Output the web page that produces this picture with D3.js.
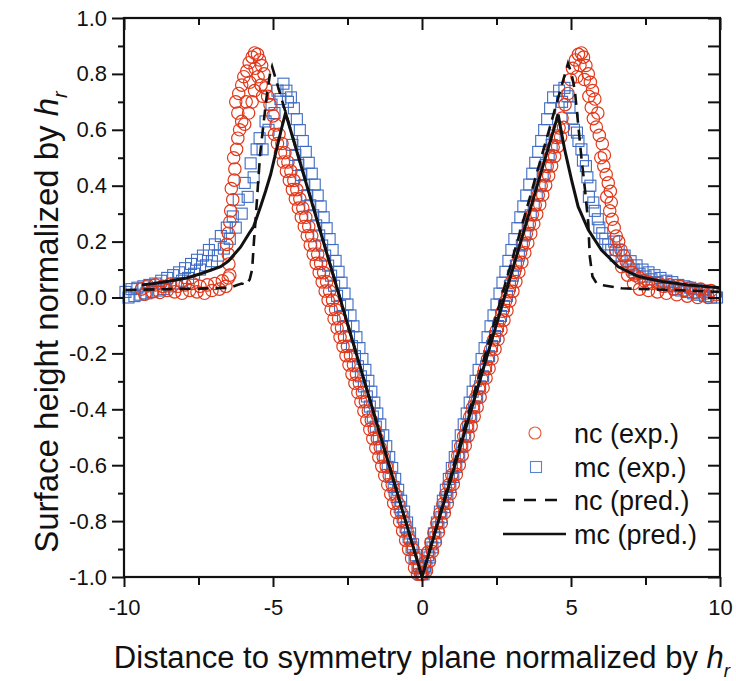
<!DOCTYPE html>
<html><head><meta charset="utf-8">
<script src="https://cdn.jsdelivr.net/npm/d3@7"></script>
<style>body{margin:0;background:#fff} svg{display:block} text{font-family:"Liberation Sans",Arial,Helvetica,sans-serif;fill:#111}</style>
</head><body>
<svg id="c" width="736" height="681"></svg>
<script>
const xTicks = [-10,-5,0,5,10];
const xTickLabels = ["-10","-5","0","5","10"];
const xMinorTicks = [-7.5,-2.5,2.5,7.5];
const yTicks = [-1,-0.8,-0.6,-0.4,-0.2,0,0.2,0.4,0.6,0.8,1];
const yTickLabels = ["-1.0","-0.8","-0.6","-0.4","-0.2","0.0","0.2","0.4","0.6","0.8","1.0"];
const yMinorTicks = [-0.9,-0.7,-0.5,-0.3,-0.1,0.1,0.3,0.5,0.7,0.9];
const legendLabels = ["nc (exp.)","mc (exp.)","nc (pred.)","mc (pred.)"];

// nc (exp.) red circles
const ncExp = [
// left tail
[-9.42,0.03],[-9.3,0.012],[-9.2,0.042],[-9.05,0.02],[-8.95,0.045],[-8.8,0.018],[-8.7,0.04],[-8.55,0.025],[-8.45,0.048],[-8.3,0.02],[-8.2,0.04],[-8.05,0.015],[-7.95,0.045],[-7.8,0.025],[-7.7,0.05],[-7.55,0.02],[-7.45,0.04],[-7.3,0.015],[-7.2,0.045],[-7.05,0.025],[-6.95,0.05],[-6.8,0.03],[-6.7,0.06],[-6.58,0.04],[-6.5,0.07],
// left rise and peak
[-6.45,0.08],[-6.48,0.12],[-6.5,0.155],[-6.55,0.19],[-6.5,0.23],[-6.45,0.27],[-6.42,0.31],[-6.35,0.35],[-6.4,0.39],[-6.3,0.42],[-6.28,0.46],[-6.32,0.5],[-6.22,0.53],[-6.18,0.57],[-6.12,0.6],[-6.05,0.63],[-6.18,0.66],[-6.25,0.7],[-6.15,0.73],[-6.05,0.76],
[-5.98,0.79],[-5.88,0.81],[-5.8,0.84],[-5.7,0.86],[-5.62,0.875],[-5.52,0.87],[-5.45,0.85],[-5.38,0.83],[-5.3,0.8],[-5.78,0.77],[-5.62,0.74],[-5.5,0.79],[-5.4,0.76],[-5.25,0.75],[-5.18,0.72],[-5.9,0.7],[-5.82,0.66],[-5.7,0.7],[-5.1,0.69],[-5.95,0.62],[-5.6,0.82],[-5.35,0.72],
// left linear, row A
[-5.0,0.65],[-4.9,0.617],[-4.8,0.584],[-4.7,0.551],[-4.6,0.518],[-4.5,0.485],[-4.4,0.452],[-4.3,0.419],[-4.2,0.386],[-4.1,0.353],[-4.0,0.32],[-3.9,0.287],[-3.8,0.254],[-3.7,0.221],[-3.6,0.188],[-3.5,0.155],[-3.4,0.122],[-3.3,0.089],[-3.2,0.056],[-3.1,0.023],[-3.0,-0.01],[-2.9,-0.043],[-2.8,-0.076],[-2.7,-0.109],[-2.6,-0.142],[-2.5,-0.175],[-2.4,-0.208],[-2.3,-0.241],[-2.2,-0.274],[-2.1,-0.307],[-2.0,-0.34],[-1.9,-0.373],[-1.8,-0.406],[-1.7,-0.439],[-1.6,-0.472],[-1.5,-0.505],[-1.4,-0.538],[-1.3,-0.571],[-1.2,-0.604],[-1.1,-0.637],[-1.0,-0.67],[-0.9,-0.703],[-0.8,-0.736],[-0.7,-0.769],[-0.6,-0.802],[-0.5,-0.835],[-0.4,-0.868],[-0.3,-0.901],[-0.2,-0.934],[-0.1,-0.967],
// left linear, row B
[-4.95,0.584],[-4.85,0.551],[-4.75,0.518],[-4.65,0.485],[-4.55,0.452],[-4.45,0.419],[-4.35,0.386],[-4.25,0.353],[-4.15,0.32],[-4.05,0.287],[-3.95,0.254],[-3.85,0.221],[-3.75,0.188],[-3.65,0.155],[-3.55,0.122],[-3.45,0.089],[-3.35,0.056],[-3.25,0.023],[-3.15,-0.01],[-3.05,-0.043],[-2.95,-0.076],[-2.85,-0.109],[-2.75,-0.142],[-2.65,-0.175],[-2.55,-0.208],[-2.45,-0.241],[-2.35,-0.274],[-2.25,-0.307],[-2.15,-0.34],[-2.05,-0.373],[-1.95,-0.406],[-1.85,-0.439],[-1.75,-0.472],[-1.65,-0.505],[-1.55,-0.538],[-1.45,-0.571],[-1.35,-0.604],[-1.25,-0.637],[-1.15,-0.67],[-1.05,-0.703],[-0.95,-0.736],[-0.85,-0.769],[-0.75,-0.802],[-0.65,-0.835],[-0.55,-0.868],[-0.45,-0.901],[-0.35,-0.934],[-0.25,-0.967],[-0.15,-0.99],[-0.05,-0.99],[0,-0.99],
// right linear, row A
[0.1,-0.946],[0.2,-0.911],[0.3,-0.877],[0.4,-0.842],[0.5,-0.808],[0.6,-0.773],[0.7,-0.739],[0.8,-0.704],[0.9,-0.67],[1.0,-0.635],[1.1,-0.601],[1.2,-0.566],[1.3,-0.532],[1.4,-0.497],[1.5,-0.463],[1.6,-0.428],[1.7,-0.394],[1.8,-0.359],[1.9,-0.325],[2.0,-0.29],[2.1,-0.256],[2.2,-0.221],[2.3,-0.187],[2.4,-0.152],[2.5,-0.118],[2.6,-0.083],[2.7,-0.049],[2.8,-0.014],[2.9,0.021],[3.0,0.055],[3.1,0.09],[3.2,0.124],[3.3,0.159],[3.4,0.193],[3.5,0.228],[3.6,0.262],[3.7,0.297],[3.8,0.331],[3.9,0.366],[4.0,0.4],[4.1,0.435],[4.2,0.469],[4.3,0.504],[4.4,0.538],[4.5,0.573],[4.6,0.607],[4.7,0.642],
// right linear, row B
[0.15,-0.978],[0.25,-0.944],[0.35,-0.909],[0.45,-0.875],[0.55,-0.84],[0.65,-0.806],[0.75,-0.771],[0.85,-0.737],[0.95,-0.702],[1.05,-0.668],[1.15,-0.633],[1.25,-0.599],[1.35,-0.564],[1.45,-0.53],[1.55,-0.495],[1.65,-0.461],[1.75,-0.426],[1.85,-0.392],[1.95,-0.357],[2.05,-0.323],[2.15,-0.288],[2.25,-0.254],[2.35,-0.219],[2.45,-0.185],[2.55,-0.15],[2.65,-0.116],[2.75,-0.081],[2.85,-0.047],[2.95,-0.012],[3.05,0.022],[3.15,0.057],[3.25,0.091],[3.35,0.126],[3.45,0.16],[3.55,0.195],[3.65,0.229],[3.75,0.264],[3.85,0.298],[3.95,0.333],[4.05,0.367],[4.15,0.402],[4.25,0.436],[4.35,0.471],[4.45,0.505],[4.55,0.54],[4.65,0.574],[4.75,0.609],
// right peak and decline
[4.8,0.69],[4.9,0.73],[4.98,0.78],[5.05,0.82],[5.15,0.85],[5.25,0.87],[5.35,0.875],[5.42,0.86],[5.3,0.83],[5.5,0.83],[5.2,0.79],[5.58,0.8],[5.65,0.77],[5.72,0.74],[5.8,0.71],[5.68,0.68],[5.75,0.64],[5.85,0.61],[5.95,0.58],[6.05,0.55],[6.12,0.51],[6.1,0.47],[6.18,0.44],[6.25,0.41],[6.32,0.38],[6.35,0.34],[6.3,0.31],[6.38,0.28],[6.45,0.25],[6.52,0.22],[6.6,0.2],[6.68,0.17],[6.76,0.15],[6.85,0.13],[6.95,0.11],[7.05,0.09],[7.15,0.08],[7.3,0.07],[7.45,0.06],
[5.45,0.78],[5.6,0.72],[5.9,0.66],[6.0,0.5],[6.2,0.36],[6.5,0.17],[6.7,0.11],[6.9,0.08],[7.1,0.05],
// right tail
[7.3,0.03],[7.6,0.055],[7.6,0.025],[7.75,0.05],[7.9,0.02],[7.95,0.05],[8.1,0.04],[8.2,0.015],[8.3,0.045],[8.45,0.03],[8.55,0.01],[8.65,0.04],[8.8,0.025],[8.9,0.005],[9.0,0.035],[9.15,0.02],[9.25,0.0],[9.35,0.03],[9.5,0.015],[9.6,0.0],[9.7,0.025],[9.85,0.01]
];

// mc (exp.) blue squares
const mcExp = [
// left tail and rise
[-9.95,0.02],[-9.85,0.0],[-9.75,0.03],[-9.65,0.005],[-9.55,0.035],[-9.45,0.01],[-9.35,0.04],[-9.25,0.015],[-9.15,0.045],[-9.05,0.02],[-8.95,0.05],[-8.85,0.025],[-8.75,0.06],[-8.65,0.03],
[-8.55,0.07],[-8.45,0.04],[-8.35,0.08],[-8.25,0.05],[-8.15,0.09],[-8.05,0.06],[-7.95,0.105],[-7.85,0.07],[-7.75,0.12],[-7.65,0.085],[-7.55,0.135],[-7.45,0.1],[-7.35,0.15],[-7.25,0.115],[-7.15,0.17],[-7.05,0.13],[-6.95,0.19],[-6.85,0.15],[-6.75,0.22],[-6.65,0.175],[-6.55,0.25],[-6.45,0.21],[-6.35,0.29],[-6.25,0.25],[-6.15,0.35],[-6.05,0.3],[-5.95,0.41],[-5.85,0.36],[-5.75,0.48],[-5.65,0.43],[-5.55,0.53],[-5.45,0.57],[-5.35,0.53],[-5.25,0.63],[-5.15,0.6],[-5.05,0.69],[-4.95,0.66],[-4.85,0.74],[-4.75,0.71],[-4.65,0.765],[-4.55,0.74],[-4.5,0.7],
// left linear, row U
[-4.4,0.716],[-4.3,0.677],[-4.2,0.638],[-4.1,0.599],[-4.0,0.56],[-3.9,0.521],[-3.8,0.482],[-3.7,0.443],[-3.6,0.404],[-3.5,0.365],[-3.4,0.326],[-3.3,0.287],[-3.2,0.248],[-3.1,0.209],[-3.0,0.17],[-2.9,0.131],[-2.8,0.092],[-2.7,0.053],[-2.6,0.014],[-2.5,-0.025],[-2.4,-0.064],[-2.3,-0.103],[-2.2,-0.142],[-2.1,-0.181],[-2.0,-0.22],[-1.9,-0.259],[-1.8,-0.298],[-1.7,-0.337],[-1.6,-0.376],[-1.5,-0.415],[-1.4,-0.454],[-1.3,-0.493],[-1.2,-0.532],[-1.1,-0.571],[-1.0,-0.61],[-0.9,-0.649],[-0.8,-0.688],[-0.7,-0.727],[-0.6,-0.766],[-0.5,-0.805],[-0.4,-0.844],[-0.3,-0.883],[-0.2,-0.922],[-0.1,-0.961],
// left linear, row M
[-4.35,0.546],[-4.25,0.51],[-4.15,0.474],[-4.05,0.438],[-3.95,0.402],[-3.85,0.366],[-3.75,0.33],[-3.65,0.294],[-3.55,0.258],[-3.45,0.222],[-3.35,0.186],[-3.25,0.15],[-3.15,0.114],[-3.05,0.078],[-2.95,0.042],[-2.85,0.006],[-2.75,-0.03],[-2.65,-0.066],[-2.55,-0.102],[-2.45,-0.138],[-2.35,-0.174],[-2.25,-0.21],[-2.15,-0.246],[-2.05,-0.282],[-1.95,-0.318],[-1.85,-0.354],[-1.75,-0.39],[-1.65,-0.426],[-1.55,-0.462],[-1.45,-0.498],[-1.35,-0.534],[-1.25,-0.57],[-1.15,-0.606],[-1.05,-0.642],[-0.95,-0.678],[-0.85,-0.714],[-0.75,-0.75],[-0.65,-0.786],[-0.55,-0.822],[-0.45,-0.858],[-0.35,-0.894],[-0.25,-0.93],[-0.15,-0.966],[-0.05,-0.99],[0,-0.99],
// right linear, row U
[0.1,-0.961],[0.2,-0.922],[0.3,-0.883],[0.4,-0.844],[0.5,-0.805],[0.6,-0.766],[0.7,-0.727],[0.8,-0.688],[0.9,-0.649],[1.0,-0.61],[1.1,-0.571],[1.2,-0.532],[1.3,-0.493],[1.4,-0.454],[1.5,-0.415],[1.6,-0.376],[1.7,-0.337],[1.8,-0.298],[1.9,-0.259],[2.0,-0.22],[2.1,-0.181],[2.2,-0.142],[2.3,-0.103],[2.4,-0.064],[2.5,-0.025],[2.6,0.014],[2.7,0.053],[2.8,0.092],[2.9,0.131],[3.0,0.17],[3.1,0.209],[3.2,0.248],[3.3,0.287],[3.4,0.326],[3.5,0.365],[3.6,0.404],[3.7,0.443],[3.8,0.482],[3.9,0.521],[4.0,0.56],[4.1,0.599],[4.2,0.638],[4.3,0.677],[4.4,0.716],
// right linear, row M
[0.05,-0.99],[0.15,-0.966],[0.25,-0.93],[0.35,-0.894],[0.45,-0.858],[0.55,-0.822],[0.65,-0.786],[0.75,-0.75],[0.85,-0.714],[0.95,-0.678],[1.05,-0.642],[1.15,-0.606],[1.25,-0.57],[1.35,-0.534],[1.45,-0.498],[1.55,-0.462],[1.65,-0.426],[1.75,-0.39],[1.85,-0.354],[1.95,-0.318],[2.05,-0.282],[2.15,-0.246],[2.25,-0.21],[2.35,-0.174],[2.45,-0.138],[2.55,-0.102],[2.65,-0.066],[2.75,-0.03],[2.85,0.006],[2.95,0.042],[3.05,0.078],[3.15,0.114],[3.25,0.15],[3.35,0.186],[3.45,0.222],[3.55,0.258],[3.65,0.294],[3.75,0.33],[3.85,0.366],[3.95,0.402],[4.05,0.438],[4.15,0.474],[4.25,0.51],[4.35,0.546],[4.45,0.58],
// right peak, decline and tail
[4.6,0.74],[4.7,0.7],[4.78,0.75],[4.88,0.72],[4.95,0.68],[5.05,0.64],[5.1,0.6],[5.2,0.59],[5.25,0.56],[5.35,0.53],[5.4,0.49],[5.5,0.47],[5.55,0.43],[5.65,0.4],[5.6,0.36],[5.75,0.34],[5.8,0.31],[5.9,0.28],[5.95,0.25],[6.05,0.23],[6.15,0.21],[6.25,0.19],[6.35,0.17],[6.45,0.2],[6.5,0.15],[6.6,0.17],[6.7,0.13],[6.8,0.15],[6.9,0.115],[7.0,0.13],[7.1,0.1],[7.2,0.115],[7.3,0.085],[7.4,0.1],[7.5,0.075],[7.6,0.09],[7.7,0.065],[7.8,0.08],[7.9,0.055],[8.0,0.07],[8.1,0.045],[8.2,0.06],[8.3,0.04],[8.4,0.055],[8.5,0.03],[8.6,0.045],[8.7,0.025],[8.8,0.04],[8.9,0.02],[9.0,0.035],[9.1,0.015],[9.2,0.03],[9.3,0.01],[9.4,0.025],[9.5,0.005],[9.6,0.02],[9.7,0.0],[9.8,0.015],[9.9,0.0]
];

// nc (pred.) dashed line
const ncPred = [
[-9.95,0.027],[-8.5,0.03],[-7.0,0.033],[-6.43,0.035],[-6.2,0.045],[-6.05,0.05],[-5.9,0.045],[-5.78,0.065],[-5.7,0.1],[-5.64,0.2],[-5.57,0.3],[-5.5,0.41],[-5.43,0.515],[-5.32,0.62],[-5.2,0.73],[-5.1,0.8],[-5.03,0.826],
[0,-1],
[4.9,0.838],[5.02,0.8],[5.13,0.74],[5.24,0.62],[5.35,0.5],[5.47,0.385],[5.58,0.266],[5.63,0.147],[5.72,0.075],[5.85,0.052],[6.02,0.045],[6.7,0.033],[8.38,0.027],[10,0.02]
];

// mc (pred.) solid line
const mcPred = [
[-9.4,0.045],[-9.0,0.05],[-8.5,0.058],[-7.9,0.07],[-7.43,0.085],[-6.76,0.11],[-6.5,0.13],[-6.09,0.18],[-5.8,0.23],[-5.65,0.254],[-5.42,0.325],[-5.25,0.38],[-5.08,0.44],[-4.86,0.54],[-4.7,0.61],[-4.58,0.66],
[0,-1],
[4.57,0.655],[4.68,0.59],[4.79,0.528],[5.02,0.42],[5.24,0.325],[5.58,0.242],[6.02,0.17],[6.59,0.11],[7.26,0.075],[8.05,0.057],[8.94,0.045],[10,0.035]
];

const svg = d3.select("#c");
const L=124, R=720, T=18, B=577;
const x = d3.scaleLinear().domain([-10,10]).range([L,R]);
const y = d3.scaleLinear().domain([-1,1]).range([B,T]);

const redC = "#e2381a", blueC = "#3f6cc4";

const s = 11;
svg.append("g").selectAll("rect").data(mcExp).join("rect")
  .attr("x", d=>x(d[0])-s/2).attr("y", d=>y(d[1])-s/2)
  .attr("width", s).attr("height", s)
  .attr("fill","none").attr("stroke",blueC).attr("stroke-width",1.1);
svg.append("g").selectAll("circle").data(ncExp).join("circle")
  .attr("cx", d=>x(d[0])).attr("cy", d=>y(d[1])).attr("r",6.2)
  .attr("fill","none").attr("stroke",redC).attr("stroke-width",1.2);

const line = d3.line().x(d=>x(d[0])).y(d=>y(d[1]));
svg.append("path").attr("d", line(ncPred)).attr("fill","none").attr("stroke","#111")
  .attr("stroke-width",2.6).attr("stroke-dasharray","11,7");
svg.append("path").attr("d", line(mcPred)).attr("fill","none").attr("stroke","#111")
  .attr("stroke-width",3).attr("stroke-linejoin","miter");

// axes
const axG = svg.append("g");
function styleAxis(g){ g.select(".domain").remove(); g.selectAll(".tick line").attr("stroke","#111").attr("stroke-width",2); }
axG.append("g").attr("transform",`translate(${L},0)`)
  .call(d3.axisLeft(y).tickValues(yTicks).tickSize(12).tickPadding(5).tickFormat((d,i)=>yTickLabels[i]))
  .call(styleAxis).call(g=>g.selectAll("text").attr("font-size",22).attr("fill","#111"));
axG.append("g").attr("transform",`translate(${L},0)`)
  .call(d3.axisLeft(y).tickValues(yMinorTicks).tickSize(6).tickFormat(""))
  .call(styleAxis);
axG.append("g").attr("transform",`translate(${R},0)`)
  .call(d3.axisLeft(y).tickValues(yTicks.concat(yMinorTicks)).tickSize(12).tickFormat(""))
  .call(styleAxis);
axG.append("g").attr("transform",`translate(0,${B})`)
  .call(d3.axisBottom(x).tickValues(xTicks).tickSize(10).tickPadding(12).tickFormat((d,i)=>xTickLabels[i]))
  .call(styleAxis).call(g=>g.selectAll("text").attr("font-size",22).attr("fill","#111"));
axG.append("g").attr("transform",`translate(0,${B})`)
  .call(d3.axisBottom(x).tickValues(xMinorTicks).tickSize(8).tickFormat(""))
  .call(styleAxis);
axG.append("g").attr("transform",`translate(0,${T})`)
  .call(d3.axisBottom(x).tickValues(xTicks).tickSize(12).tickFormat(""))
  .call(styleAxis);
axG.append("g").attr("transform",`translate(0,${T})`)
  .call(d3.axisBottom(x).tickValues(xMinorTicks).tickSize(7).tickFormat(""))
  .call(styleAxis);
svg.append("rect").attr("x",L).attr("y",T).attr("width",R-L).attr("height",B-T)
  .attr("fill","none").attr("stroke","#111").attr("stroke-width",2.2);

// titles
const xt = svg.append("text").attr("x", 422).attr("y", 668).attr("text-anchor","middle").attr("font-size",31);
xt.append("tspan").text("Distance to symmetry plane normalized by ");
xt.append("tspan").attr("font-style","italic").text("h");
xt.append("tspan").attr("font-style","italic").attr("font-size",19).attr("dy",9).text("r");

const yt = svg.append("text").attr("transform","translate(58,322) rotate(-90)").attr("text-anchor","middle").attr("font-size",33);
yt.append("tspan").text("Surface height normalized by ");
yt.append("tspan").attr("font-style","italic").text("h");
yt.append("tspan").attr("font-style","italic").attr("font-size",20).attr("dy",9).text("r");

// legend
const lg = svg.append("g");
const ly = [433,467,500,534];
lg.append("circle").attr("cx",535).attr("cy",ly[0]).attr("r",6).attr("fill","none").attr("stroke","#e0623a").attr("stroke-width",1.2);
lg.append("rect").attr("x",536-5.5).attr("y",ly[1]-5.5).attr("width",11).attr("height",11).attr("fill","none").attr("stroke","#5a82cc").attr("stroke-width",1.1);
lg.append("line").attr("x1",503).attr("x2",560).attr("y1",ly[2]).attr("y2",ly[2]).attr("stroke","#111").attr("stroke-width",2.6).attr("stroke-dasharray","12,9");
lg.append("line").attr("x1",503).attr("x2",566).attr("y1",ly[3]).attr("y2",ly[3]).attr("stroke","#111").attr("stroke-width",2.6);
lg.selectAll("text.l").data(legendLabels).join("text").attr("class","l")
  .attr("x",574).attr("y",(d,i)=>ly[i]+10).attr("font-size",27).text(d=>d);
</script>
</body></html>
